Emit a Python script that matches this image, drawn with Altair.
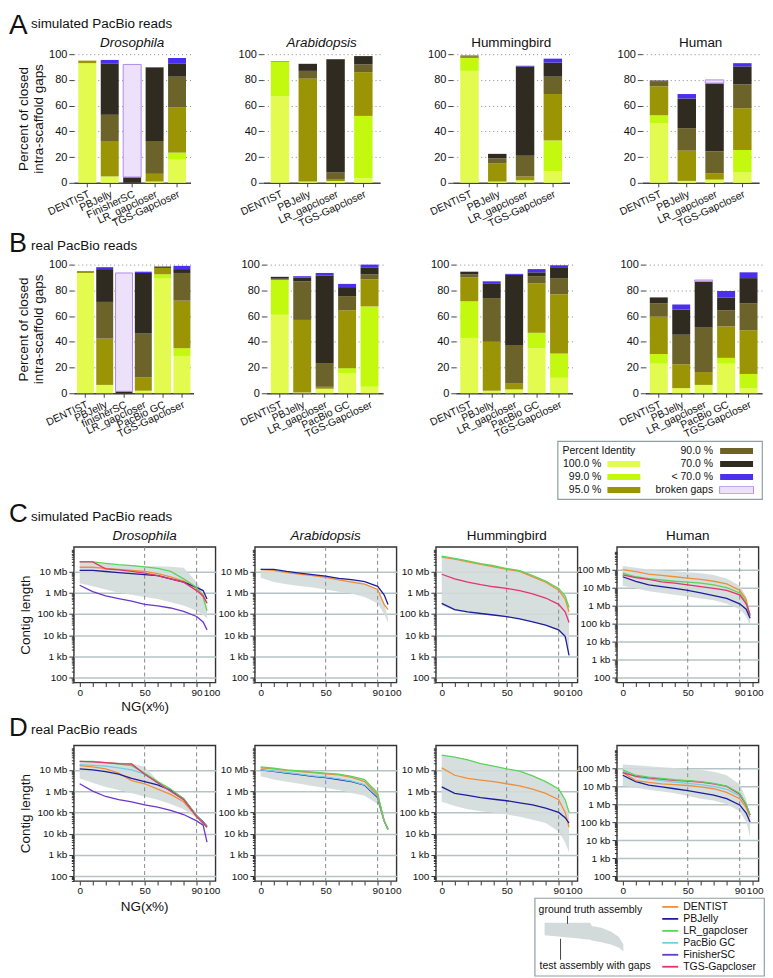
import altair as alt
import pandas as pd

FONT = "Liberation Sans"
INK = "#111111"

# ---------------- Percent identity categories ----------------
PI_CATS = ["100.0 %", "99.0 %", "95.0 %", "90.0 %", "70.0 %", "< 70.0 %", "broken gaps"]
PI_COLORS = ["#e2fb4e", "#c3f90f", "#9b9405", "#6b6329", "#2f2b21", "#4a30ee", "#ede0fa"]

# ---------------- A: simulated reads, closed gaps (%) per category ----------------
A_dro_tools = ["DENTIST", "PBJelly", "FinisherSC", "LR_gapcloser", "TGS-Gapcloser"]
A_dro = [[93, 0, 2, 0, 0, 0, 0],
         [5, 0, 27.5, 20.5, 39.5, 3, 0],
         [0, 0, 0, 0, 4, 0.5, 87.5],
         [1, 0, 6, 25.5, 57, 0.5, 0],
         [18, 5.5, 35, 24, 10, 4.5, 0]]
A_ara_tools = ["DENTIST", "PBJelly", "LR_gapcloser", "TGS-Gapcloser"]
A_ara = [[67, 27, 0.5, 0, 0, 0, 0],
         [1, 0, 80, 6, 5.5, 0, 0],
         [1.5, 0, 1.5, 5, 88, 0.3, 0],
         [3.5, 48.5, 34, 6, 6.5, 0, 0]]
A_hum_tools = ["DENTIST", "PBJelly", "LR_gapcloser", "TGS-Gapcloser"]
A_hum = [[87, 10, 1, 1, 0, 0, 0],
         [1, 0, 14, 4, 3.5, 0, 0],
         [2, 0, 3, 16, 69.5, 0.5, 0],
         [9, 24, 36, 13.5, 11, 3, 0]]
A_hsa_tools = ["DENTIST", "PBJelly", "LR_gapcloser", "TGS-Gapcloser"]
A_hsa = [[46.5, 6, 22.5, 4, 0.5, 0, 0],
         [1.5, 0, 23.5, 17.5, 23, 3.5, 0],
         [2.5, 0, 5, 17, 52.5, 0.5, 2.5],
         [8, 17.5, 32.5, 18.5, 14, 2.5, 0]]

# ---------------- B: real reads ----------------
B_dro_tools = ["DENTIST", "PBJelly", "finisherSC", "LR_gapcloser", "PacBio GC", "TGS-Gapcloser"]
B_dro = [[93.5, 0, 1.5, 0, 0, 0, 0],
         [6.5, 0, 36, 28.5, 25.5, 1.5, 0],
         [0, 0, 0, 0, 1.5, 0, 92],
         [2, 0, 10.5, 34, 47, 1, 0],
         [89.5, 3, 5, 0, 1, 0, 0],
         [29, 6, 37, 21.5, 3, 2.5, 0]]
B_ara_tools = ["DENTIST", "PBJelly", "LR_gapcloser", "PacBio GC", "TGS-Gapcloser"]
B_ara = [[61, 27, 1, 0, 1.5, 0, 0],
         [0.5, 0, 56.5, 30, 3, 1, 0],
         [3.5, 0, 1.5, 18.5, 68, 2, 0],
         [15.5, 4, 45, 11, 7, 2.5, 0],
         [5, 62.5, 21, 4, 5, 2.5, 0]]
B_hum_tools = ["DENTIST", "PBJelly", "LR_gapcloser", "PacBio GC", "TGS-Gapcloser"]
B_hum = [[43, 28.5, 18.5, 2.5, 2, 0, 0],
         [2, 0, 38, 34, 11, 2, 0],
         [3, 0, 4.5, 30, 54.5, 0.8, 0],
         [35, 12, 38.5, 5.5, 3, 2.5, 0],
         [12, 19, 46, 12.5, 8.5, 1.5, 0]]
B_hsa_tools = ["DENTIST", "PBJelly", "LR_gapcloser", "PacBio GC", "TGS-Gapcloser"]
B_hsa = [[23, 7.5, 29, 10.5, 4.5, 0, 0],
         [4, 0, 18.5, 23, 19.5, 4, 0],
         [6.5, 0, 10, 34.5, 35.5, 0.5, 1],
         [23, 4.5, 24.5, 12.5, 10, 5, 0],
         [4, 11, 34, 21, 19.5, 4.5, 0]]

# ---------------- NG curves (log10 contig length) ----------------
TOOLS = ["DENTIST", "PBJelly", "LR_gapcloser", "PacBio GC", "FinisherSC", "TGS-Gapcloser"]
TOOL_COLORS = ["#ef8f3c", "#1d1d9e", "#5bd35b", "#6fcfe6", "#6a37c9", "#e6336d"]
NG_X = [0, 10, 20, 30, 40, 50, 60, 70, 80, 90, 95, 98]
NG_MARKS = [50, 90]

C_dro_band = [[7.40, 7.40, 7.38, 7.32, 7.30, 7.25, 7.25, 7.22, 7.18, 6.50, 6.00, 5.20],
              [6.45, 6.30, 6.15, 6.00, 5.90, 5.80, 5.70, 5.55, 5.40, 5.15, 4.95, 4.80]]
C_dro_tools = ["DENTIST", "PBJelly", "LR_gapcloser", "TGS-Gapcloser", "FinisherSC"]
C_dro = [[7.20, 7.20, 7.15, 7.10, 7.05, 7.00, 6.90, 6.75, 6.55, 6.20, 5.90, 5.50],
         [7.05, 7.05, 7.00, 6.95, 6.90, 6.85, 6.80, 6.65, 6.50, 6.25, 6.10, 5.70],
         [7.45, 7.45, 7.38, 7.32, 7.28, 7.22, 7.15, 7.00, 6.65, 6.25, 5.80, 5.15],
         [7.45, 7.45, 7.12, 7.08, 7.00, 6.92, 6.80, 6.65, 6.50, 6.10, 5.85, 5.50],
         [6.35, 6.05, 5.85, 5.72, 5.60, 5.45, 5.38, 5.28, 5.12, 4.88, 4.62, 4.25]]

C_ara_band = [[7.10, 7.05, 7.00, 6.92, 6.85, 6.78, 6.70, 6.60, 6.45, 6.15, 5.50, 4.80],
              [6.70, 6.50, 6.40, 6.32, 6.25, 6.15, 6.05, 5.95, 5.80, 5.50, 5.00, 4.60]]
C_ara_tools = ["DENTIST", "PBJelly"]
C_ara = [[7.10, 7.05, 6.95, 6.88, 6.80, 6.72, 6.60, 6.50, 6.40, 6.15, 5.45, 5.20],
         [7.10, 7.10, 7.00, 6.92, 6.85, 6.78, 6.68, 6.62, 6.52, 6.30, 5.90, 5.45]]

C_hum_band = [[7.70, 7.60, 7.48, 7.35, 7.25, 7.12, 7.02, 6.78, 6.52, 6.22, 5.85, 5.20],
              [5.40, 5.15, 5.05, 4.98, 4.92, 4.85, 4.75, 4.62, 4.45, 4.20, 3.80, 3.20]]
C_hum_tools = ["DENTIST", "LR_gapcloser", "TGS-Gapcloser", "PBJelly"]
C_hum = [[7.68, 7.58, 7.45, 7.33, 7.22, 7.10, 7.00, 6.75, 6.50, 6.12, 5.70, 5.10],
         [7.72, 7.62, 7.50, 7.37, 7.27, 7.14, 7.04, 6.80, 6.55, 6.20, 5.85, 5.30],
         [6.87, 6.65, 6.50, 6.38, 6.28, 6.20, 6.10, 5.95, 5.75, 5.45, 5.10, 4.60],
         [5.50, 5.20, 5.10, 5.02, 4.95, 4.87, 4.77, 4.63, 4.47, 4.25, 3.95, 3.05]]

C_hsa_band = [[8.20, 8.10, 8.00, 7.95, 7.90, 7.85, 7.80, 7.70, 7.50, 7.10, 6.50, 5.30],
              [7.10, 6.95, 6.80, 6.70, 6.60, 6.50, 6.40, 6.30, 6.10, 5.80, 5.40, 4.90]]
C_hsa_tools = ["DENTIST", "LR_gapcloser", "TGS-Gapcloser", "PBJelly"]
C_hsa = [[8.00, 7.88, 7.75, 7.68, 7.60, 7.52, 7.45, 7.35, 7.20, 6.85, 6.35, 5.40],
         [7.80, 7.60, 7.50, 7.42, 7.35, 7.30, 7.25, 7.15, 7.00, 6.70, 6.20, 5.40],
         [7.70, 7.55, 7.45, 7.32, 7.25, 7.15, 7.05, 6.95, 6.85, 6.60, 6.10, 5.50],
         [7.60, 7.35, 7.15, 7.05, 6.95, 6.85, 6.70, 6.55, 6.40, 6.10, 5.80, 5.30]]

D_dro_band = [[7.40, 7.40, 7.38, 7.35, 7.30, 7.15, 6.50, 6.10, 5.60, 4.90, 4.60, 4.45],
              [6.60, 6.40, 6.20, 6.05, 5.90, 5.75, 5.60, 5.40, 5.15, 4.75, 4.50, 4.30]]
D_dro_tools = ["DENTIST", "PBJelly", "PacBio GC", "LR_gapcloser", "TGS-Gapcloser", "FinisherSC"]
D_dro = [[7.20, 7.15, 7.05, 6.85, 6.50, 6.35, 6.10, 5.85, 5.50, 4.80, 4.50, 4.30],
         [7.05, 7.00, 6.92, 6.80, 6.60, 6.45, 6.30, 6.05, 5.65, 4.85, 4.55, 4.35],
         [7.25, 7.22, 7.18, 7.10, 7.00, 6.80, 6.40, 6.00, 5.60, 4.80, 4.50, 4.35],
         [7.40, 7.40, 7.35, 7.28, 7.20, 6.85, 6.45, 6.10, 5.65, 4.85, 4.50, 4.30],
         [7.40, 7.38, 7.35, 7.30, 7.28, 6.80, 6.40, 6.00, 5.60, 4.80, 4.50, 4.30],
         [6.35, 6.00, 5.75, 5.60, 5.50, 5.35, 5.25, 5.10, 4.90, 4.60, 4.40, 3.60]]

D_ara_band = [[7.15, 7.08, 7.00, 6.95, 6.90, 6.85, 6.80, 6.70, 6.55, 6.00, 4.70, 4.30],
              [6.70, 6.55, 6.45, 6.35, 6.25, 6.15, 6.05, 5.92, 5.78, 5.40, 4.60, 4.25]]
D_ara_tools = ["PBJelly", "PacBio GC", "DENTIST", "LR_gapcloser"]
D_ara = [[7.00, 6.93, 6.85, 6.78, 6.70, 6.64, 6.55, 6.45, 6.28, 5.70, 4.60, 4.20],
         [7.00, 6.95, 6.88, 6.80, 6.72, 6.66, 6.58, 6.47, 6.30, 5.75, 4.60, 4.20],
         [7.10, 7.05, 6.98, 6.92, 6.87, 6.82, 6.77, 6.65, 6.45, 5.80, 4.60, 4.20],
         [7.15, 7.08, 7.00, 6.95, 6.90, 6.85, 6.80, 6.70, 6.55, 5.90, 4.60, 4.20]]

D_hum_band = [[7.70, 7.60, 7.48, 7.30, 7.18, 7.05, 6.95, 6.72, 6.45, 6.10, 5.60, 5.00],
              [5.50, 5.30, 5.15, 5.05, 4.98, 4.90, 4.80, 4.65, 4.50, 4.10, 3.60, 3.10]]
D_hum_tools = ["DENTIST", "PBJelly", "LR_gapcloser"]
D_hum = [[7.10, 6.75, 6.60, 6.52, 6.45, 6.35, 6.25, 6.10, 5.90, 5.60, 5.00, 4.30],
         [6.20, 5.90, 5.80, 5.70, 5.62, 5.55, 5.45, 5.35, 5.20, 5.00, 4.75, 4.50],
         [7.70, 7.60, 7.48, 7.30, 7.18, 7.05, 6.95, 6.72, 6.45, 6.10, 5.60, 5.00]]

D_hsa_band = [[8.20, 8.15, 8.10, 8.05, 8.00, 7.95, 7.90, 7.80, 7.60, 7.10, 6.30, 5.30],
              [7.00, 6.90, 6.80, 6.70, 6.60, 6.45, 6.30, 6.20, 6.00, 5.60, 5.00, 4.20]]
D_hsa_tools = ["PBJelly", "DENTIST", "PacBio GC", "TGS-Gapcloser", "LR_gapcloser"]
D_hsa = [[7.60, 7.25, 7.05, 6.95, 6.85, 6.75, 6.62, 6.50, 6.30, 5.95, 5.50, 5.00],
         [7.75, 7.30, 7.20, 7.12, 7.08, 7.03, 6.95, 6.85, 6.65, 6.30, 5.80, 5.30],
         [7.85, 7.50, 7.40, 7.30, 7.22, 7.15, 7.08, 6.98, 6.82, 6.45, 5.95, 5.40],
         [7.75, 7.55, 7.45, 7.38, 7.32, 7.28, 7.22, 7.12, 6.98, 6.55, 5.95, 5.40],
         [7.90, 7.60, 7.50, 7.42, 7.35, 7.30, 7.25, 7.15, 7.00, 6.60, 6.00, 5.40]]

SIZE_LABELS = {100: "100", 1000: "1 kb", 10000: "10 kb", 100000: "100 kb",
               1000000: "1 Mb", 10000000: "10 Mb", 100000000: "100 Mb"}

# legend 2 sample shape (icon)
ICON_X = [0, 20, 40, 58, 60, 72, 84, 94, 100]
ICON_TOP = [1.0, 1.0, 1.0, 1.0, 0.9, 0.84, 0.72, 0.55, 0.3]
ICON_BOT = [0.6, 0.55, 0.5, 0.45, 0.43, 0.37, 0.3, 0.2, 0.08]

pi_color = alt.Color("cat:N", scale=alt.Scale(domain=PI_CATS, range=PI_COLORS), legend=None)
tool_color = alt.Color("tool:N", scale=alt.Scale(domain=TOOLS, range=TOOL_COLORS), legend=None)

BAR_H = 129
LINE_H = 136
LINE_W = 142
TITLE_FS = 13.5


def spacer(w, h, label=None, lx=0, ly=0):
    df = pd.DataFrame({"t": [label or ""]})
    ch = alt.Chart(df).mark_text(fontSize=TITLE_FS, font=FONT, color=INK, baseline="middle", align="center")
    if label:
        ch = ch.encode(text="t:N", x=alt.value(lx), y=alt.value(ly))
    else:
        ch = ch.encode(text="t:N")
    return ch.properties(width=w, height=h)


def text_layer(s, x, y, fs, align="left", italic=False):
    return alt.Chart(pd.DataFrame({"t": [s]})).mark_text(
        fontSize=fs, align=align, baseline="alphabetic", font=FONT, color=INK,
        fontStyle="italic" if italic else "normal"
    ).encode(text="t:N", x=alt.value(x), y=alt.value(y))


def header_layers(letter, text, fs, lbase, sbase):
    return [text_layer(letter, -65, lbase, fs), text_layer(text, -43, sbase, TITLE_FS)]


def title_layers(title, italic, width):
    if not title:
        return []
    return [text_layer(title, width / 2, -7, TITLE_FS, align="center", italic=italic)]


def bar_panel(tools, rows, title=None, italic=False, ytitle=None, width=117, size=18, head=None):
    recs = []
    for t, vals in zip(tools, rows):
        for i, v in enumerate(vals):
            if v > 0:
                recs.append({"tool": t, "cat": PI_CATS[i], "val": v, "ord": i})
    df = pd.DataFrame(recs)
    x = alt.X("tool:N", sort=tools, title=None,
              scale=alt.Scale(paddingInner=0.0, paddingOuter=0.1),
              axis=alt.Axis(labelAngle=-25, labelAlign="right", labelBaseline="top",
                            labelFontSize=10.5, tickSize=4, domainWidth=1.5,
                            domainColor="#444", tickColor="#444", labelPadding=2))
    y = alt.Y("val:Q", stack="zero", title=ytitle,
              scale=alt.Scale(domain=[0, 100], nice=False),
              axis=alt.Axis(values=[0, 20, 40, 60, 80, 100], domain=False, grid=True,
                            gridDash=[1, 3], gridColor="#8a8a8a", tickSize=5, tickColor="#444",
                            labelFontSize=11, titleFontSize=TITLE_FS, titlePadding=3,
                            titleLineHeight=15))
    bars = alt.Chart(df).mark_bar(size=size, strokeWidth=1).encode(
        x=x, y=y, color=pi_color, order=alt.Order("ord:Q"),
        stroke=alt.condition(alt.datum.cat == "broken gaps", alt.value("#b18be6"), alt.value("transparent")),
    )
    layers = [bars] + (header_layers(*head) if head else []) + title_layers(title, italic, width)
    return alt.layer(*layers).properties(width=width, height=BAR_H)


def line_panel(tools, curves, band, human=False, title=None, italic=False, ytitle=None,
               xtitle=None, head=None):
    lo_e, hi_e = (1.73, 9.26) if human else (1.77, 8.16)
    top_label = 8 if human else 7
    labeled = [10 ** k for k in range(2, top_label + 1)]
    ticks = [d * 10 ** k for k in range(1, 10) for d in range(1, 10)
             if 10 ** lo_e <= d * 10 ** k <= 10 ** hi_e]
    expr = " : ".join(f"datum.value == {v} ? '{SIZE_LABELS[v]}'" for v in labeled) + " : ''"
    test = "indexof([" + ",".join(str(v) for v in labeled) + "], datum.value) >= 0"

    xs = alt.Scale(domain=[-4.5, 104.5], nice=False, zero=False)
    xa = alt.Axis(values=list(range(0, 101, 10)), domain=False, grid=False, tickSize=4,
                  tickColor="#333", labelFontSize=10, labelOverlap=False, labelPadding=1,
                  labelExpr="indexof([0,50,90,100], datum.value) >= 0 ? datum.label : ''",
                  labelOffset={"condition": {"test": "datum.value == 100", "value": 2}, "value": 0},
                  titleFontSize=TITLE_FS, titlePadding=2)
    ys = alt.Scale(type="log", domain=[10 ** lo_e, 10 ** hi_e], nice=False)
    ya = alt.Axis(values=ticks, labelExpr=expr, domain=False, grid=True, labelOverlap=False,
                  gridColor="#b5c3c5", gridWidth=1.5,
                  gridOpacity={"condition": {"test": test, "value": 1}, "value": 0},
                  tickSize={"condition": {"test": test, "value": 5}, "value": 2.5},
                  tickColor="#333", labelFontSize=10, titleFontSize=TITLE_FS, titlePadding=4)

    def X(field):
        return alt.X(field, scale=xs, axis=xa, title=xtitle)

    def Y(field):
        return alt.Y(field, scale=ys, axis=ya, title=ytitle)

    band_df = pd.DataFrame({"x": NG_X, "hi": [10 ** v for v in band[0]], "lo": [10 ** v for v in band[1]]})
    recs = []
    for t, vals in zip(tools, curves):
        for xv, v in zip(NG_X, vals):
            recs.append({"tool": t, "x": xv, "len": 10 ** v})
    line_df = pd.DataFrame(recs)

    area = alt.Chart(band_df).mark_area(color="#d3dbda", opacity=0.9).encode(
        x=X("x:Q"), y=Y("hi:Q"), y2="lo:Q")
    rules = alt.Chart(pd.DataFrame({"x": NG_MARKS})).mark_rule(
        color="#8a8a8a", strokeDash=[4, 3], strokeWidth=1).encode(x=X("x:Q"))
    lines = alt.Chart(line_df).mark_line(strokeWidth=1.3).encode(
        x=X("x:Q"), y=Y("len:Q"), color=tool_color, detail="tool:N")
    layers = [area, rules, lines] + (header_layers(*head) if head else []) + title_layers(title, italic, LINE_W)
    return alt.layer(*layers).properties(
        width=LINE_W, height=LINE_H, view=alt.ViewBackground(stroke="#333", strokeWidth=1.4))


def legend_identity():
    idx = list(range(len(PI_CATS)))
    df = pd.DataFrame({"cat": PI_CATS,
                       "col": [0 if i < 3 else 1 for i in idx],
                       "row": [i + 1 if i < 3 else i - 3 for i in idx]})
    yenc = alt.Y("row:Q", scale=alt.Scale(domain=[0, 3], range=[10, 49]), axis=None)
    base = alt.Chart(df)
    txt = dict(baseline="middle", fontSize=10.5, font=FONT, color=INK)
    lt = base.transform_filter("datum.col == 0").mark_text(align="right", **txt).encode(
        x=alt.value(44), y=yenc, text="cat:N")
    ls = base.transform_filter("datum.col == 0").mark_rule(strokeWidth=6).encode(
        x=alt.value(50), x2=alt.value(83), y=yenc, color=pi_color)
    rt = base.transform_filter("datum.col == 1").mark_text(align="right", **txt).encode(
        x=alt.value(156), y=yenc, text="cat:N")
    rb = base.transform_filter("datum.cat == 'broken gaps'").mark_rule(strokeWidth=7.5, color="#b18be6").encode(
        x=alt.value(162), x2=alt.value(197), y=yenc)
    rs = base.transform_filter("datum.col == 1").mark_rule(strokeWidth=6).encode(
        x=alt.value(163), x2=alt.value(196), y=yenc, color=pi_color)
    ttl = alt.Chart(pd.DataFrame({"t": ["Percent Identity"], "row": [0]})).mark_text(align="left", **txt).encode(
        x=alt.value(5), y=yenc, text="t:N")
    return alt.layer(lt, ls, rt, rb, rs, ttl).properties(
        width=205, height=58, view=alt.ViewBackground(stroke="#8fa0a3", strokeWidth=1.2))


def legend_tools():
    icon = pd.DataFrame({"x": ICON_X, "top": ICON_TOP, "bot": ICON_BOT})
    ix = alt.X("x:Q", scale=alt.Scale(domain=[0, 100], range=[10, 89]), axis=None)
    iy = alt.Y("top:Q", scale=alt.Scale(domain=[0, 1], range=[56, 25]), axis=None)
    shape = alt.Chart(icon).mark_area(color="#d3dbda").encode(x=ix, y=iy, y2="bot:Q")
    txt = dict(baseline="middle", fontSize=10.5, font=FONT, color=INK, align="left")
    notes = pd.DataFrame({"t": ["ground truth assembly"]})
    n1 = alt.Chart(notes).mark_text(**txt).encode(text="t:N", x=alt.value(4), y=alt.value(12))
    n2 = alt.Chart(pd.DataFrame({"t": ["test assembly with gaps"]})).mark_text(**txt).encode(
        text="t:N", x=alt.value(5), y=alt.value(68))
    p1 = alt.Chart(notes).mark_rule(color="#444").encode(x=alt.value(33), y=alt.value(18), y2=alt.value(26))
    p2 = alt.Chart(notes).mark_rule(color="#444").encode(x=alt.value(26), y=alt.value(41), y2=alt.value(62))
    tdf = pd.DataFrame({"tool": TOOLS, "i": list(range(len(TOOLS)))})
    ty = alt.Y("i:Q", scale=alt.Scale(domain=[0, len(TOOLS) - 1], range=[9, 69]), axis=None)
    sw = alt.Chart(tdf).mark_rule(strokeWidth=1.8).encode(
        x=alt.value(128), x2=alt.value(144), y=ty, color=tool_color)
    lab = alt.Chart(tdf).mark_text(**txt).encode(x=alt.value(149), y=ty, text="tool:N")
    return alt.layer(shape, n1, n2, p1, p2, sw, lab).resolve_scale(x="independent", y="independent").properties(
        width=230, height=78, view=alt.ViewBackground(stroke="#8fa0a3", strokeWidth=1.2))


YT_BAR = ["Percent of closed", "intra-scaffold gaps"]

rowA = alt.hconcat(
    bar_panel(A_dro_tools, A_dro, "Drosophila", True, ytitle=YT_BAR,
              head=("A", "simulated PacBio reads", 28, -20, -26)),
    bar_panel(A_ara_tools, A_ara, "Arabidopsis", True, size=18.5),
    bar_panel(A_hum_tools, A_hum, "Hummingbird", size=18.5),
    bar_panel(A_hsa_tools, A_hsa, "Human", size=18.5),
    spacing=73, bounds="flush")

rowB = alt.hconcat(
    bar_panel(B_dro_tools, B_dro, ytitle=YT_BAR, width=120, size=17,
              head=("B", "real PacBio reads", 27, -13, -15)),
    bar_panel(B_ara_tools, B_ara),
    bar_panel(B_hum_tools, B_hum),
    bar_panel(B_hsa_tools, B_hsa),
    spacing=73, bounds="flush")

rowC = alt.hconcat(
    line_panel(C_dro_tools, C_dro, C_dro_band, title="Drosophila", italic=True,
               ytitle="Contig length", xtitle="NG(x%)",
               head=("C", "simulated PacBio reads", 26, -25, -26)),
    line_panel(C_ara_tools, C_ara, C_ara_band, title="Arabidopsis", italic=True),
    line_panel(C_hum_tools, C_hum, C_hum_band, title="Hummingbird"),
    line_panel(C_hsa_tools, C_hsa, C_hsa_band, human=True, title="Human"),
    spacing=39.5, bounds="flush")

rowD = alt.hconcat(
    line_panel(D_dro_tools, D_dro, D_dro_band, ytitle="Contig length",
               head=("D", "real PacBio reads", 26, -9, -11)),
    line_panel(D_ara_tools, D_ara, D_ara_band),
    line_panel(D_hum_tools, D_hum, D_hum_band),
    line_panel(D_hsa_tools, D_hsa, D_hsa_band, human=True),
    spacing=39.5, bounds="flush")

leg1 = alt.hconcat(spacer(485, 58), legend_identity(), spacing=0, bounds="flush")
leg2 = alt.hconcat(spacer(462, 78, "NG(x%)", 71, 9), legend_tools(), spacing=0, bounds="flush")

chart = alt.vconcat(
    rowA, rowB, leg1, rowC, rowD, leg2,
    spacing=0,
).resolve_scale(color="independent").properties(
    padding={"left": 0, "right": 0, "top": 3, "bottom": 0}
).configure(font=FONT).configure_view(stroke=None).configure_axis(
    labelFont=FONT, titleFont=FONT, labelColor=INK, titleColor=INK, titleFontWeight="normal"
).configure_title(font=FONT, color=INK)

chart.save("out.html", embed_options={"renderer": "svg", "actions": False})
